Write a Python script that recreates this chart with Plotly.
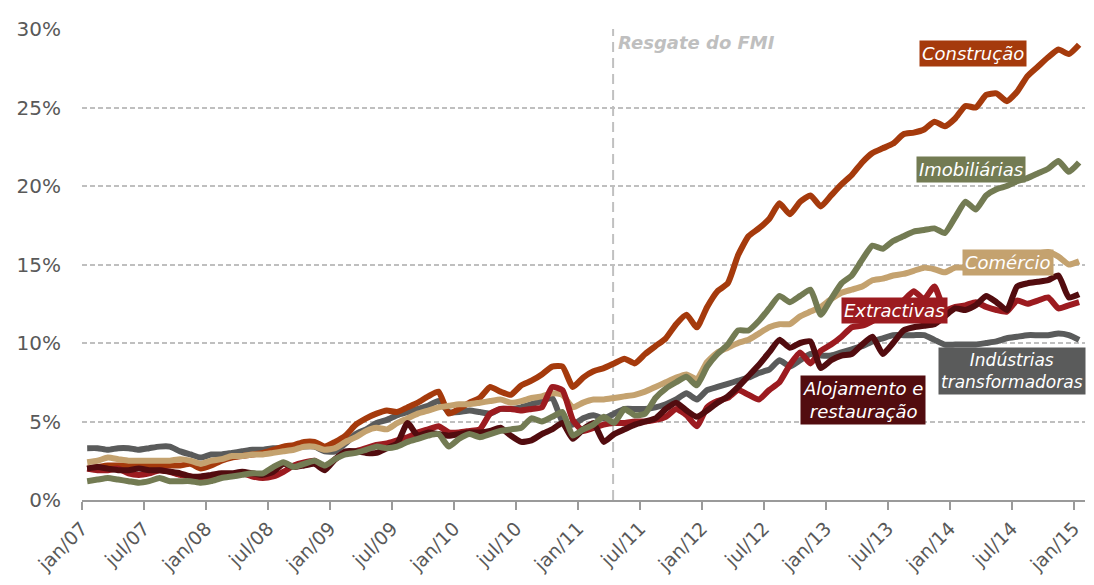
import plotly.graph_objects as go

# Monthly series, jan/07 .. jan/15 (97 months), values in %
tick_labels = ["jan/07", "jul/07", "jan/08", "jul/08", "jan/09", "jul/09", "jan/10", "jul/10",
               "jan/11", "jul/11", "jan/12", "jul/12", "jan/13", "jul/13", "jan/14", "jul/14", "jan/15"]

industrias = [3.3, 3.3, 3.2, 3.3, 3.3, 3.2, 3.3, 3.4, 3.4, 3.1, 2.9, 2.7, 2.9, 2.9, 3.0, 3.1, 3.2, 3.2,
              3.3, 3.3, 3.3, 3.4, 3.4, 3.1, 3.1, 3.6, 4.2, 4.5, 4.9, 5.1, 5.4, 5.6, 5.8, 6.0, 6.3, 5.6,
              5.6, 5.7, 5.6, 5.5, 5.8, 5.8, 5.9, 6.1, 6.3, 6.5, 5.0, 4.8, 5.2, 5.4, 5.2, 5.5, 5.8, 5.8,
              5.8, 5.9, 6.1, 6.4, 6.8, 6.4, 7.0, 7.2, 7.4, 7.6, 7.8, 8.1, 8.3, 8.9, 8.5, 8.9, 9.3, 9.2,
              9.2, 9.4, 9.6, 9.8, 10.1, 10.3, 10.5, 10.5, 10.5, 10.5, 10.2, 9.9, 9.9, 9.9, 9.9, 10.0,
              10.1, 10.3, 10.4, 10.5, 10.5, 10.5, 10.6, 10.5, 10.2]

construcao = [2.0, 2.1, 2.2, 2.2, 2.2, 2.2, 2.2, 2.2, 2.2, 2.2, 2.3, 2.0, 2.2, 2.5, 2.7, 2.8, 2.9, 3.0,
              3.2, 3.4, 3.5, 3.7, 3.7, 3.4, 3.7, 4.1, 4.8, 5.2, 5.5, 5.7, 5.6, 5.9, 6.2, 6.6, 6.9, 5.5,
              5.8, 6.2, 6.5, 7.2, 6.9, 6.7, 7.3, 7.6, 8.0, 8.5, 8.5, 7.2, 7.8, 8.2, 8.4, 8.7, 9.0, 8.7,
              9.3, 9.8, 10.3, 11.2, 11.8, 11.0, 12.3, 13.3, 13.8, 15.6, 16.8, 17.3, 17.9, 18.9, 18.2,
              19.0, 19.4, 18.7, 19.4, 20.1, 20.7, 21.5, 22.1, 22.4, 22.7, 23.3, 23.4, 23.6, 24.1, 23.8,
              24.3, 25.1, 25.0, 25.8, 25.9, 25.4, 26.0, 27.0, 27.6, 28.2, 28.7, 28.4, 29.0]

comercio = [2.4, 2.5, 2.7, 2.6, 2.5, 2.5, 2.5, 2.5, 2.5, 2.6, 2.5, 2.3, 2.5, 2.6, 2.8, 2.8, 2.9, 2.9,
            3.0, 3.1, 3.2, 3.4, 3.4, 3.2, 3.3, 3.7, 4.0, 4.4, 4.6, 4.5, 4.9, 5.2, 5.5, 5.7, 5.9, 6.0,
            6.1, 6.1, 6.2, 6.3, 6.4, 6.2, 6.3, 6.5, 6.6, 6.8, 6.7, 5.9, 6.2, 6.4, 6.4, 6.5, 6.6, 6.7,
            6.9, 7.2, 7.5, 7.8, 8.0, 7.7, 8.8, 9.4, 9.7, 10.0, 10.2, 10.6, 11.0, 11.2, 11.2, 11.7,
            12.0, 12.3, 12.8, 13.2, 13.4, 13.6, 14.0, 14.1, 14.3, 14.4, 14.6, 14.8, 14.7, 14.5, 14.8,
            14.8, 14.9, 15.0, 15.2, 15.4, 15.4, 15.5, 15.7, 15.8, 15.5, 15.0, 15.2]

imobiliarias = [1.2, 1.3, 1.4, 1.3, 1.2, 1.1, 1.2, 1.4, 1.2, 1.2, 1.2, 1.1, 1.2, 1.4, 1.5, 1.6, 1.7, 1.7,
                2.1, 2.4, 2.1, 2.3, 2.5, 2.2, 2.6, 2.9, 3.0, 3.2, 3.4, 3.3, 3.4, 3.7, 3.9, 4.1, 4.2, 3.4,
                3.9, 4.2, 4.0, 4.2, 4.4, 4.5, 4.6, 5.2, 5.0, 5.3, 5.6, 4.1, 4.5, 4.8, 5.3, 4.9, 5.8, 5.4,
                5.5, 6.5, 7.1, 7.5, 7.85, 7.3, 8.5, 9.3, 9.9, 10.8, 10.8, 11.4, 12.2, 13.0, 12.6, 13.0,
                13.4, 11.8, 12.8, 13.8, 14.3, 15.3, 16.2, 16.0, 16.5, 16.8, 17.1, 17.2, 17.3, 17.0, 18.0,
                19.0, 18.5, 19.4, 19.8, 20.0, 20.3, 20.5, 20.8, 21.1, 21.6, 20.9, 21.5]

extractivas = [2.0, 1.9, 1.9, 2.0, 1.7, 1.6, 1.7, 1.9, 1.8, 1.6, 1.5, 1.4, 1.5, 1.6, 1.6, 1.7, 1.5, 1.4,
               1.5, 1.8, 2.2, 2.4, 2.5, 2.1, 2.6, 3.0, 3.1, 3.3, 3.5, 3.6, 3.8, 4.0, 4.3, 4.5, 4.7, 4.3,
               4.3, 4.4, 4.5, 5.5, 5.8, 5.8, 5.7, 5.8, 5.9, 7.2, 7.0, 5.1, 4.4, 4.6, 4.8, 4.9, 4.9, 5.0,
               5.0, 5.1, 5.3, 5.8, 5.4, 4.7, 5.9, 6.3, 6.5, 7.0, 6.7, 6.4, 7.0, 7.5, 8.6, 9.4, 8.7, 9.5,
               9.9, 10.4, 11.0, 11.1, 11.4, 11.8, 12.2, 12.7, 13.3, 12.8, 13.6, 12.1, 12.3, 12.4, 12.6,
               12.3, 12.1, 12.0, 12.7, 12.5, 12.7, 12.9, 12.2, 12.4, 12.6]

alojamento = [2.0, 2.1, 2.0, 1.9, 1.9, 2.0, 1.9, 1.9, 1.8, 1.7, 1.5, 1.5, 1.6, 1.7, 1.7, 1.8, 1.7, 1.6,
              1.8, 2.3, 2.1, 2.2, 2.3, 1.9, 2.6, 3.1, 3.1, 3.0, 3.0, 3.3, 3.6, 4.9, 4.1, 4.3, 4.2, 4.1,
              4.2, 4.3, 4.3, 4.4, 4.6, 4.1, 3.7, 3.8, 4.2, 4.5, 4.9, 3.9, 4.5, 4.9, 3.7, 4.2, 4.5, 4.8,
              5.0, 5.2, 5.8, 6.2, 5.7, 5.3, 5.7, 6.2, 6.6, 7.2, 7.9, 8.6, 9.4, 10.2, 9.7, 10.0, 10.1,
              8.4, 8.9, 9.2, 9.3, 9.9, 10.4, 9.3, 10.0, 10.8, 11.0, 11.1, 11.2, 11.7, 12.2, 12.1, 12.4,
              13.0, 12.6, 12.1, 13.6, 13.8, 13.9, 14.0, 14.3, 12.9, 13.1]

months = list(range(len(construcao)))  # month index, 0 = jan/07
tick_positions = [-0.5 + 6 * k for k in range(len(tick_labels))]

C_IND = "#5A5B5B"
C_CON = "#A53A0C"
C_COM = "#C4A26F"
C_EXT = "#9C1B20"
C_ALO = "#520C0F"
C_IMO = "#737B53"

FONT = "DejaVu Sans"

fig = go.Figure()
series = [
    ("Indústrias transformadoras", industrias, C_IND),
    ("Construção", construcao, C_CON),
    ("Comércio", comercio, C_COM),
    ("Extractivas", extractivas, C_EXT),
    ("Alojamento e restauração", alojamento, C_ALO),
    ("Imobiliárias", imobiliarias, C_IMO),
]
for name, vals, col in series:
    fig.add_trace(go.Scatter(x=months, y=vals, name=name, mode="lines",
                             line=dict(color=col, width=6, shape="spline", smoothing=0.5),
                             showlegend=False, hoverinfo="skip"))

# IMF bailout marker
fig.add_shape(type="line", xref="x", yref="y", x0=50.9, x1=50.9, y0=0, y1=30,
              line=dict(color="#C0C0C0", width=2, dash="10px,6px"), layer="below")
fig.add_annotation(x=51.2, y=29.15, xref="x", yref="y", text="<b><i>Resgate do FMI</i></b>",
                   showarrow=False, xanchor="left", yanchor="middle",
                   font=dict(family=FONT, size=18, color="#BFBFBF"))

labels = [
    ("Construção", 85.7, 28.45, C_CON, 18),
    ("Imobiliárias", 85.5, 21.07, C_IMO, 18),
    ("Comércio", 89.1, 15.15, C_COM, 18),
    ("Extractivas", 78.1, 12.06, C_EXT, 18),
    ("Indústrias<br>transformadoras", 89.5, 8.19, C_IND, 17),
    ("Alojamento e<br>restauração", 75.1, 6.36, C_ALO, 18),
]
for txt, lx, ly, col, fs in labels:
    fig.add_annotation(x=lx, y=ly, xref="x", yref="y", text="<i>" + txt + "</i>",
                       showarrow=False, xanchor="center", yanchor="middle", align="center",
                       bgcolor=col, borderpad=2,
                       font=dict(family=FONT, size=fs, color="white"))

# page body has an 8px margin: figure is sized/offset to compensate
fig.update_layout(
    width=1086, height=577,
    margin=dict(l=74, r=9, t=20, b=81),
    paper_bgcolor="white", plot_bgcolor="white",
    font=dict(family=FONT, color="#595959"),
)
fig.update_xaxes(
    range=[-0.5, 96.57],
    tickmode="array", tickvals=tick_positions, ticktext=tick_labels,
    tickangle=-45, tickfont=dict(family=FONT, size=19, color="#595959"),
    showgrid=False, zeroline=False,
    showline=True, linecolor="#9A9A9A", linewidth=2,
    ticks="outside", ticklen=8, tickcolor="#9A9A9A", tickwidth=1.5,
)
fig.update_yaxes(
    range=[0, 30], tickmode="array", tickvals=[0, 5, 10, 15, 20, 25, 30],
    ticktext=["0%", "5%", "10%", "15%", "20%", "25%", "30%"],
    tickfont=dict(family=FONT, size=20, color="#595959"),
    showgrid=True, gridcolor="#BFBFBF", gridwidth=1.5, griddash="5px,3px",
    zeroline=False, showline=False,
    ticks="outside", ticklen=16, tickcolor="rgba(0,0,0,0)",
)

fig.write_html("out.html")
